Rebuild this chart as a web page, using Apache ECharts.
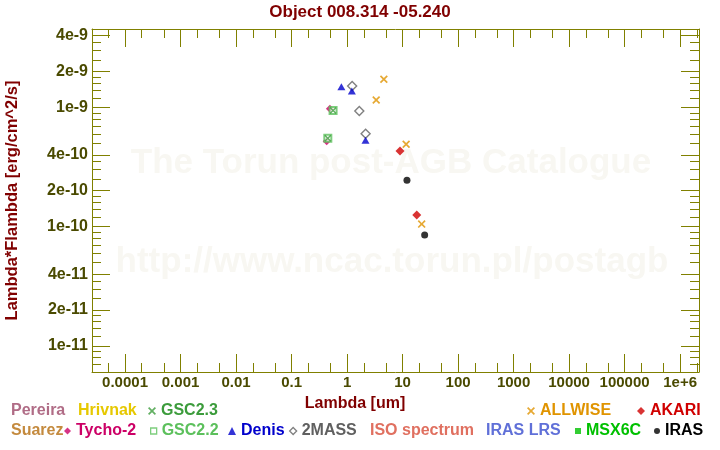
<!DOCTYPE html>
<html><head><meta charset="utf-8">
<script src="https://cdn.jsdelivr.net/npm/echarts@6/dist/echarts.min.js"></script>
<style>html,body{margin:0;padding:0;background:#fff}#c{width:720px;height:450px}</style>
</head><body><div id="c"></div>
<script>
// ---------- data ----------
const titleText = 'Object 008.314 -05.240';
const xAxisName = 'Lambda [um]';
const yAxisName = 'Lambda*Flambda [erg/cm^2/s]';
const xTickValues = [1e-4, 1e-3, 0.01, 0.1, 1, 10, 100, 1000, 1e4, 1e5, 1e6];
const xTickLabels = ['0.0001', '0.001', '0.01', '0.1', '1', '10', '100', '1000', '10000', '100000', '1e+6'];
const yTickValues = [1e-11, 2e-11, 4e-11, 1e-10, 2e-10, 4e-10, 1e-9, 2e-9, 4e-9];
const yTickLabels = ['1e-11', '2e-11', '4e-11', '1e-10', '2e-10', '4e-10', '1e-9', '2e-9', '4e-9'];
const xMinorMultipliers = [2, 5];
const yMinorMultipliers = [1.2, 1.4, 1.6, 1.8, 2.5, 3, 3.5, 5, 6, 7, 8, 9];
const xRange = [2.54e-5, 2.19e6];
const yRange = [6.05e-12, 4.53e-9];

const tycho2Lambda = [0.43, 0.49];
const tycho2Flux = [5.2e-10, 9.7e-10];
const gsc22Lambda = [0.45, 0.56];
const gsc22Flux = [5.5e-10, 9.4e-10];
const gsc23Lambda = [0.45, 0.56];
const gsc23Flux = [5.5e-10, 9.4e-10];
const twomassLambda = [1.235, 1.662, 2.159];
const twomassFlux = [1.51e-9, 9.3e-10, 6.0e-10];
const denisLambda = [0.79, 1.22, 2.15];
const denisFlux = [1.49e-9, 1.37e-9, 5.3e-10];
const irasLambda = [12, 25];
const irasFlux = [2.45e-10, 8.5e-11];
const allwiseLambda = [3.35, 4.6, 11.6, 22.1];
const allwiseFlux = [1.15e-9, 1.72e-9, 4.9e-10, 1.05e-10];
const akariLambda = [9, 18];
const akariFlux = [4.3e-10, 1.25e-10];

const legendRow1 = ['Pereira', 'Hrivnak', 'GSC2.3', 'ALLWISE', 'AKARI'];
const legendRow2 = ['Suarez', 'Tycho-2', 'GSC2.2', 'Denis', '2MASS', 'ISO spectrum', 'IRAS LRS', 'MSX6C', 'IRAS'];

// ---------- styling ----------
const FONT = "'Liberation Sans', Arial, sans-serif";
const OLIVE = '#808000';
const LABEL_COLOR = '#4a4a00';
const DARKRED = '#800000';
const XPATH = 'path://M0,1.5L1.5,0L5,3.5L8.5,0L10,1.5L6.5,5L10,8.5L8.5,10L5,6.5L1.5,10L0,8.5L3.5,5Z';

const styles = {
  'Pereira':      {color: '#b06c86', icon: 'none'},
  'Hrivnak':      {color: '#e6c800', icon: 'none'},
  'GSC2.3':       {color: '#3c9c3c', icon: XPATH, size: 8},
  'Suarez':       {color: '#c48a3e', icon: 'none'},
  'Tycho-2':      {color: '#cc0066', icon: 'diamond', size: 7},
  'GSC2.2':       {color: '#5cc05c', icon: 'rect', size: 6, open: true},
  'Denis':        {color: '#0000cc', icon: 'triangle', size: 8},
  '2MASS':        {color: '#606060', icon: 'diamond', size: 7, open: true},
  'ISO spectrum': {color: '#e07060', icon: 'none'},
  'IRAS LRS':     {color: '#6070d8', icon: 'none'},
  'MSX6C':        {color: '#00c000', icon: 'rect', size: 6},
  'IRAS':         {color: '#000000', icon: 'circle', size: 6},
  'ALLWISE':      {color: '#e09400', icon: XPATH, size: 8},
  'AKARI':        {color: '#d00000', icon: 'diamond', size: 8}
};
// text start x for legend entries (layout)
const legendTextX = {
  'Pereira': 11, 'Hrivnak': 78, 'GSC2.3': 161, 'ALLWISE': 540, 'AKARI': 650,
  'Suarez': 11, 'Tycho-2': 76, 'GSC2.2': 161, 'Denis': 241, '2MASS': 301,
  'ISO spectrum': 370, 'IRAS LRS': 486, 'MSX6C': 586, 'IRAS': 665
};
const legendRowTop = [403, 423];

function labelFor(values, labels) {
  return function (v) {
    for (let i = 0; i < values.length; i++) {
      if (Math.abs(Math.log10(v) - Math.log10(values[i])) < 1e-6) return labels[i];
    }
    return '';
  };
}
function minorTicks(mults, lo, hi) {
  const out = [];
  for (let e = Math.floor(Math.log10(lo)) - 1; e <= Math.ceil(Math.log10(hi)); e++) {
    for (const m of mults) {
      const v = m * Math.pow(10, e);
      if (v >= lo && v <= hi) out.push(v);
    }
  }
  return out;
}
const xMinor = minorTicks(xMinorMultipliers, xRange[0], xRange[1]);
const yMinor = minorTicks(yMinorMultipliers, yRange[0], yRange[1]);

function makeAxis(range, pos, gridIndex, ticks, tickLen, showLine, label) {
  return {
    type: 'log', logBase: 10, gridIndex: gridIndex, position: pos,
    min: range[0], max: range[1],
    splitLine: {show: false}, minorTick: {show: false}, splitArea: {show: false},
    axisLine: {show: showLine, onZero: false, lineStyle: {color: OLIVE, width: 1}},
    axisTick: {show: true, inside: true, length: tickLen, customValues: ticks, lineStyle: {color: OLIVE, width: 1}},
    axisLabel: label ? label : {show: false},
    axisPointer: {show: false}
  };
}

const xLabel = {show: true, customValues: xTickValues, formatter: labelFor(xTickValues, xTickLabels),
  color: LABEL_COLOR, fontSize: 15, fontWeight: 'bold', fontFamily: FONT, margin: 3};
const yLabel = {show: true, customValues: yTickValues, formatter: labelFor(yTickValues, yTickLabels),
  color: LABEL_COLOR, fontSize: 16, fontWeight: 'bold', fontFamily: FONT, margin: 4};

const xAxes = [
  Object.assign(makeAxis(xRange, 'bottom', 0, xTickValues, 18, true, xLabel), {
    name: xAxisName, nameLocation: 'middle', nameGap: 24,
    nameTextStyle: {color: DARKRED, fontSize: 16, fontWeight: 'bold', fontFamily: FONT, padding: [0, 81, 0, 0]}
  }),
  makeAxis(xRange, 'top', 0, xTickValues, 18, true, null),
  makeAxis(xRange, 'bottom', 1, xMinor, 9, false, null),
  makeAxis(xRange, 'top', 1, xMinor, 9, false, null)
];
const yAxes = [
  Object.assign(makeAxis(yRange, 'left', 0, yTickValues, 18, true, yLabel), {
    name: yAxisName, nameLocation: 'middle', nameGap: 71,
    nameTextStyle: {color: DARKRED, fontSize: 16.5, fontWeight: 'bold', fontFamily: FONT}
  }),
  makeAxis(yRange, 'right', 0, yTickValues, 18, true, null),
  makeAxis(yRange, 'left', 1, yMinor, 9, false, null),
  makeAxis(yRange, 'right', 1, yMinor, 9, false, null)
];

function pairs(xs, ys) { return xs.map((x, i) => [x, ys[i]]); }

function scatter(name, data, symbol, size, itemStyle, z) {
  return {name: name, type: 'scatter', xAxisIndex: 0, yAxisIndex: 0, data: data,
    symbol: symbol, symbolSize: size, itemStyle: itemStyle, z: z, silent: true,
    emphasis: {disabled: true}};
}

const series = [
  scatter('Pereira', [], 'circle', 6, {color: styles['Pereira'].color}, 2),
  scatter('Hrivnak', [], 'circle', 6, {color: styles['Hrivnak'].color}, 2),
  scatter('Suarez', [], 'circle', 6, {color: styles['Suarez'].color}, 2),
  scatter('ISO spectrum', [], 'circle', 6, {color: styles['ISO spectrum'].color}, 2),
  scatter('IRAS LRS', [], 'circle', 6, {color: styles['IRAS LRS'].color}, 2),
  scatter('MSX6C', [], 'rect', 7, {color: styles['MSX6C'].color}, 2),
  scatter('Tycho-2', pairs(tycho2Lambda, tycho2Flux), 'diamond', 8, {color: styles['Tycho-2'].color}, 3),
  scatter('GSC2.2', pairs(gsc22Lambda, gsc22Flux), 'rect', 7,
    {color: '#ffffff', borderColor: styles['GSC2.2'].color, borderWidth: 2}, 4),
  scatter('GSC2.3', pairs(gsc23Lambda, gsc23Flux), XPATH, 7, {color: styles['GSC2.3'].color}, 5),
  scatter('2MASS', pairs(twomassLambda, twomassFlux), 'diamond', 9,
    {color: 'rgba(255,255,255,0)', borderColor: styles['2MASS'].color, borderWidth: 1.4}, 6),
  scatter('Denis', pairs(denisLambda, denisFlux), 'triangle', [8, 7], {color: styles['Denis'].color}, 7),
  scatter('IRAS', pairs(irasLambda, irasFlux), 'circle', 7, {color: styles['IRAS'].color}, 8),
  scatter('ALLWISE', pairs(allwiseLambda, allwiseFlux), XPATH, 8, {color: styles['ALLWISE'].color}, 9),
  scatter('AKARI', pairs(akariLambda, akariFlux), 'diamond', 9, {color: styles['AKARI'].color}, 10)
];

function legendFor(name, top) {
  const s = styles[name];
  const w = s.icon === 'none' ? 0 : s.size;
  const item = {name: name, icon: s.icon};
  if (s.icon !== 'none') {
    item.itemStyle = s.open
      ? {color: '#ffffff', borderColor: s.color, borderWidth: 1.3}
      : {color: s.color, borderWidth: 0};
  }
  return {
    show: true, data: [item], left: legendTextX[name] - w - 5, top: top,
    orient: 'horizontal', padding: 0, itemGap: 0, itemWidth: w, itemHeight: s.icon === 'none' ? 0 : s.size,
    selectedMode: false,
    textStyle: {color: s.color, fontSize: 16, fontWeight: 'bold', fontFamily: FONT}
  };
}
const legends = legendRow1.map(n => legendFor(n, legendRowTop[0]))
  .concat(legendRow2.map(n => legendFor(n, legendRowTop[1])));

const gridRect = {left: 92, right: 21, top: 29, bottom: 78, containLabel: false, outerBoundsMode: 'none'};

const option = {
  animation: false,
  backgroundColor: '#ffffff',
  textStyle: {fontFamily: FONT},
  title: {text: titleText, left: 'center', top: 4, padding: 0,
    textStyle: {color: DARKRED, fontSize: 17, fontWeight: 'bold', fontFamily: FONT}},
  graphic: [
    {type: 'text', x: 391, y: 163, z: -10, silent: true,
      style: {text: 'The Torun post-AGB Catalogue', fill: '#f8f7f2', font: "bold 35px 'Liberation Sans', Arial", textAlign: 'center', textVerticalAlign: 'middle'}},
    {type: 'text', x: 392, y: 262, z: -10, silent: true,
      style: {text: 'http://www.ncac.torun.pl/postagb', fill: '#f8f7f2', font: "bold 35px 'Liberation Sans', Arial", textAlign: 'center', textVerticalAlign: 'middle'}}
  ],
  grid: [Object.assign({}, gridRect), Object.assign({}, gridRect)],
  xAxis: xAxes,
  yAxis: yAxes,
  legend: legends,
  series: series
};

const chart = echarts.init(document.getElementById('c'), null, {renderer: 'canvas'});
chart.setOption(option);
</script>
</body></html>
